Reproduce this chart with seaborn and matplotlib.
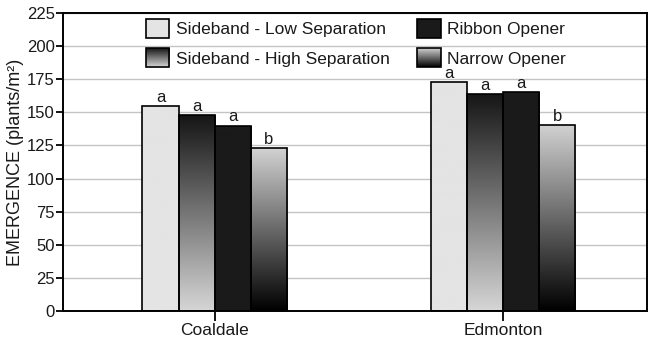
import numpy as np
import pandas as pd
import matplotlib
matplotlib.use("Agg")
import matplotlib.pyplot as plt
import seaborn as sns
from matplotlib.legend_handler import HandlerBase
from matplotlib.image import BboxImage
from matplotlib.transforms import Bbox, TransformedBbox
from matplotlib.patches import Rectangle

# Emergence (plants/m²) by site and seeding treatment
sites = ["Coaldale", "Edmonton"]
treatments = ["Sideband - Low Separation", "Sideband - High Separation",
              "Ribbon Opener", "Narrow Opener"]
coaldale = [155, 148, 140, 123]
edmonton = [173, 164, 165.5, 140.5]
letters_coaldale = ["a", "a", "a", "b"]
letters_edmonton = ["a", "a", "a", "b"]
y_ticks = [0, 25, 50, 75, 100, 125, 150, 175, 200, 225]

# fill of each treatment: (top colour, bottom colour)
fills = {
    "Sideband - Low Separation": ("#e4e4e4", "#e4e4e4"),
    "Sideband - High Separation": ("#151515", "#d6d6d6"),
    "Ribbon Opener": ("#1a1a1a", "#1a1a1a"),
    "Narrow Opener": ("#d2d2d2", "#000000"),
}

df = pd.DataFrame({
    "site": np.repeat(sites, len(treatments)),
    "treatment": treatments * len(sites),
    "emergence": coaldale + edmonton,
})
letters = {("Coaldale", t): l for t, l in zip(treatments, letters_coaldale)}
letters.update({("Edmonton", t): l for t, l in zip(treatments, letters_edmonton)})

sns.set_theme(style="white")
plt.rcParams["font.family"] = ["Liberation Sans", "DejaVu Sans"]
TEXT = "#1a1a1a"


def gradient(top, bottom, n=256):
    c0 = np.array(matplotlib.colors.to_rgb(top))
    c1 = np.array(matplotlib.colors.to_rgb(bottom))
    t = np.linspace(0, 1, n)[:, None]
    return (c0 * (1 - t) + c1 * t)[:, None, :]


fig = plt.figure(figsize=(6.5, 3.47), dpi=100)
ax = fig.add_axes([0.097, 0.104, 0.898, 0.8585])

sns.barplot(data=df, x="site", y="emergence", hue="treatment",
            hue_order=treatments, order=sites, width=0.5, errorbar=None,
            edgecolor="black", linewidth=1.2, ax=ax, legend=False, zorder=3)

for cont, treat in zip(ax.containers, treatments):
    top, bottom = fills[treat]
    for bar, site in zip(cont, sites):
        x0, y0 = bar.get_x(), bar.get_y()
        w, h = bar.get_width(), bar.get_height()
        img = ax.imshow(gradient(top, bottom), extent=(x0, x0 + w, y0, y0 + h),
                        aspect="auto", interpolation="bilinear", zorder=2.5)
        img.set_clip_path(bar)
        bar.set_facecolor("none")
        ax.text(x0 + w / 2, y0 + h + 0.8, letters[(site, treat)],
                ha="center", va="bottom", fontsize=12, color=TEXT, zorder=4)

ax.set_xlim(-0.525, 1.497)
ax.set_ylim(0, 225)
ax.set_yticks(y_ticks)
ax.yaxis.grid(True, color="#c4c4c4", linewidth=1.0, zorder=0)
ax.set_axisbelow(True)
for s in ax.spines.values():
    s.set_color("black")
    s.set_linewidth(1.4)
ax.tick_params(axis="y", direction="out", length=5, width=1.3,
               color="black", labelsize=12, labelcolor=TEXT, left=True, pad=1)
ax.tick_params(axis="x", direction="out", length=7, width=1.3,
               color="black", labelsize=12.5, labelcolor=TEXT, bottom=True, pad=2)
ax.set_xlabel("")
ax.set_ylabel("EMERGENCE (plants/m²)", fontsize=13, color=TEXT, labelpad=2)


class GradientHandler(HandlerBase):
    def __init__(self, top, bottom):
        super().__init__()
        self.top, self.bottom = top, bottom

    def create_artists(self, legend, orig_handle, xdescent, ydescent,
                       width, height, fontsize, trans):
        bb = Bbox.from_bounds(-xdescent, -ydescent, width, height)
        im = BboxImage(TransformedBbox(bb, trans), interpolation="bilinear")
        im.set_data(gradient(self.top, self.bottom))
        edge = Rectangle((-xdescent, -ydescent), width, height,
                         facecolor="none", edgecolor="black", linewidth=1.2,
                         transform=trans)
        return [im, edge]


handles = [Rectangle((0, 0), 1, 1) for _ in treatments]
handler_map = {h: GradientHandler(*fills[t]) for h, t in zip(handles, treatments)}
ax.legend(handles, treatments, handler_map=handler_map, ncol=2, frameon=False,
          loc="upper left", bbox_to_anchor=(0.142, 0.98), fontsize=12.5,
          handlelength=1.35, handleheight=1.3, handletextpad=0.4,
          columnspacing=1.55, labelspacing=0.6, borderaxespad=0, borderpad=0,
          labelcolor=TEXT)

fig.savefig("out.png", dpi=100)
